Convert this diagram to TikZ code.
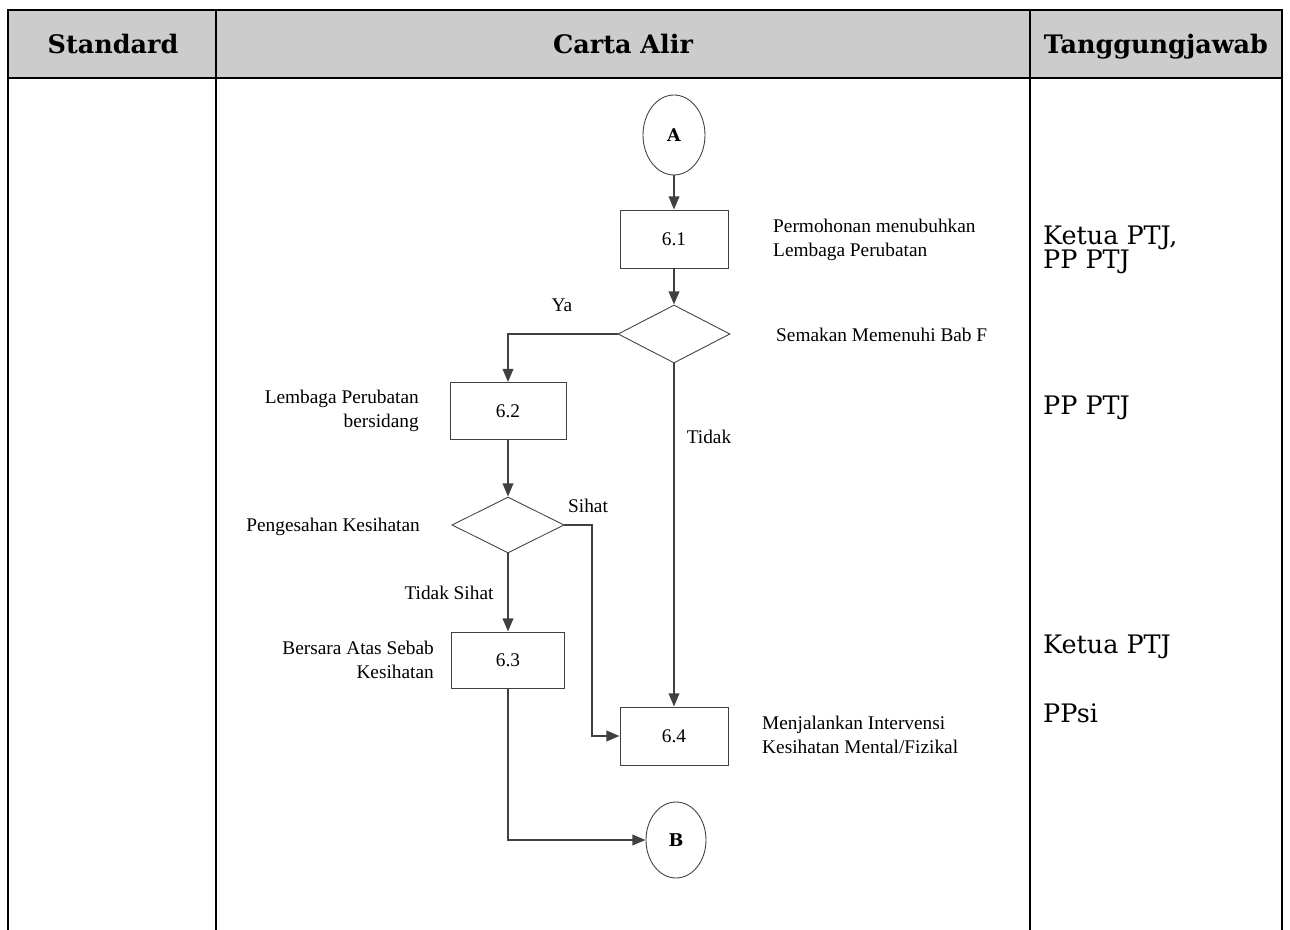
\documentclass[tikz,border=0pt]{standalone}
\usepackage{fontspec}
\setmainfont{Liberation Serif}
\newfontfamily\hdrfont{DejaVu Serif}
\usepackage{tikz}
\usetikzlibrary{positioning,shapes.geometric,arrows.meta}
\definecolor{hdrgrey}{RGB}{204,204,204}
\definecolor{linegrey}{RGB}{64,64,64}
\tikzset{
  box/.style={draw=linegrey, line width=0.5pt, rectangle, minimum width=2.16cm, minimum height=1.16cm, font=\fontsize{11}{13}\selectfont},
  decision/.style={draw=linegrey, line width=0.5pt, diamond, inner sep=0pt, minimum width=2.24cm, minimum height=1.16cm},
  connector/.style={draw=linegrey, line width=0.5pt, ellipse, minimum width=1.24cm, minimum height=1.6cm, font=\hdrfont\bfseries\fontsize{10}{11}\selectfont},
  flow/.style={draw=linegrey, line width=1.1pt, -{Triangle[length=7.5pt,width=6pt]}},
  lbl/.style={font=\fontsize{11}{13.6}\selectfont},
  ptj/.style={font=\hdrfont\fontsize{14.5}{13.6}\selectfont, align=left, anchor=west},
  hdr/.style={font=\hdrfont\bfseries\fontsize{14.5}{15}\selectfont, anchor=base}
}
\begin{document}
\begin{tikzpicture}
  \useasboundingbox (0,0) rectangle (25.8,-18.6);
  %jadual
  \fill[hdrgrey] (0.16,-0.2) rectangle (25.64,-1.56);
  \draw[line width=1.2pt] (0.16,-18.6) -- (0.16,-0.2) -- (25.64,-0.2) -- (25.64,-18.6);
  \draw[line width=1.2pt] (0.16,-1.56) -- (25.64,-1.56);
  \draw[line width=1.2pt] (4.32,-0.2) -- (4.32,-18.6);
  \draw[line width=1.2pt] (20.6,-0.2) -- (20.6,-18.6);
  \node[hdr] (hstd) at (2.26,-1.08) {Standard};
  \node[hdr] (hcarta) at (12.46,-1.08) {Carta Alir};
  \node[hdr] (htgj) at (23.12,-1.08) {Tanggungjawab};

  %carta alir
  \node[connector] (A) at (13.48,-2.7) {A};
  \node[box] (p61) at (13.48,-4.78) {6.1};
  \node[decision] (d1) at (13.48,-6.68) {};
  \node[box, minimum width=2.32cm, minimum height=1.14cm] (p62) at (10.16,-8.22) {6.2};
  \node[decision, minimum height=1.12cm] (d2) at (10.16,-10.5) {};
  \node[box, minimum width=2.26cm, minimum height=1.12cm] (p63) at (10.16,-13.2) {6.3};
  \node[box] (p64) at (13.48,-14.72) {6.4};
  \node[connector, minimum width=1.2cm, minimum height=1.52cm] (B) at (13.52,-16.8) {B};

  \draw[flow] (A) -- (p61);
  \draw[flow] (p61) -- (d1);
  \draw[flow] (d1.west) -| (p62.north);
  \draw[flow] (d1.south) -- (p64.north);
  \draw[flow] (p62) -- (d2);
  \draw[flow] (d2.south) -- (p63.north);
  \draw[flow] (d2.east) -- ++(0.56,0) |- (p64.west);
  \draw[flow] (p63.south) |- (B.west);

  %label
  \node[lbl] (ya) at (11.24,-6.1) {Ya};
  \node[lbl] (tidak) at (14.18,-8.74) {Tidak};
  \node[lbl] (sihat) at (11.76,-10.12) {Sihat};
  \node[lbl] (tdksihat) at (8.98,-11.86) {Tidak Sihat};
  \node[lbl, align=left, anchor=west] (t61) at (15.34,-4.8) {Permohonan menubuhkan\\Lembaga Perubatan};
  \node[lbl, anchor=west] (td1) at (15.4,-6.7) {Semakan Memenuhi Bab F};
  \node[lbl, align=right, anchor=east] (t62) at (8.5,-8.22) {Lembaga Perubatan\\bersidang};
  \node[lbl, anchor=east] (td2) at (8.52,-10.54) {Pengesahan Kesihatan};
  \node[lbl, align=right, anchor=east] (t63) at (8.8,-13.2) {Bersara Atas Sebab\\Kesihatan};
  \node[lbl, align=left, anchor=west] (t64) at (15.12,-14.7) {Menjalankan Intervensi\\Kesihatan Mental/Fizikal};

  %tanggungjawab
  \node[ptj] (r61) at (20.74,-5.0) {Ketua PTJ,\\PP PTJ};
  \node[ptj] (r62) at (20.74,-8.16) {PP PTJ};
  \node[ptj] (r63) at (20.74,-12.94) {Ketua PTJ};
  \node[ptj] (r64) at (20.74,-14.26) {PPsi};
\end{tikzpicture}
\end{document}
